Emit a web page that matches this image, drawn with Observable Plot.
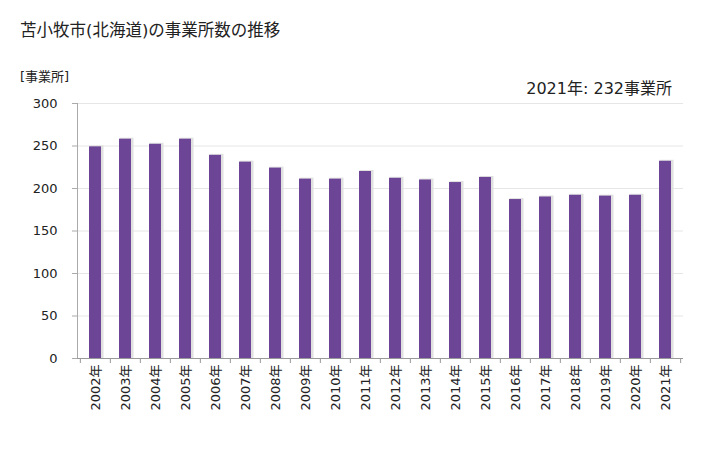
<!DOCTYPE html>
<html><head><meta charset="utf-8">
<script src="https://cdn.jsdelivr.net/npm/d3@7"></script>
<script src="https://cdn.jsdelivr.net/npm/@observablehq/plot@0.6"></script>
<style>
body{margin:0;background:#fff;font-family:"DejaVu Sans","Noto Sans CJK JP",sans-serif;}
#wrap{position:relative;width:728px;height:450px;}
.t{position:absolute;color:#222;white-space:nowrap;}
</style></head><body>
<div id="wrap">
<div class="t" id="title" style="left:20px;top:17px;font-size:16.5px;">苫小牧市(北海道)の事業所数の推移</div>
<div class="t" id="unit" style="left:20px;top:66px;font-size:13px;">[事業所]</div>
<div class="t" id="note" style="right:56px;top:75px;font-size:16px;">2021年: 232事業所</div>
</div>
<script>
const years = ["2002","2003","2004","2005","2006","2007","2008","2009","2010","2011","2012","2013","2014","2015","2016","2017","2018","2019","2020","2021"];
const counts = [249,258,252,258,239,231,224,211,211,220,212,210,207,213,187,190,192,191,192,232];
const yTicks = [0,50,100,150,200,250,300];
const data = years.map((y,i)=>({year:y, value:counts[i]}));

const W = 728, H = 450, mL = 77, mR = 45;
const step = (W - mL - mR) / years.length;

const chart = Plot.plot({
  width: W, height: H,
  marginLeft: mL, marginRight: mR, marginTop: 103, marginBottom: 92,
  style: {fontFamily: '"DejaVu Sans","Noto Sans CJK JP",sans-serif', fontSize: "13px", color: "#222", background: "transparent"},
  x: {domain: years, paddingInner: 0.6, paddingOuter: 0.3, label: null},
  y: {domain: [0,300], label: null},
  marks: [
    Plot.gridY(yTicks, {stroke: "#e6e6e6", strokeOpacity: 1}),
    Plot.barY(data, {x: "year", y: "value", fill: "#e0e0e0", dx: 1.5, insetLeft: -1, insetRight: -1, insetTop: -1}),
    Plot.barY(data, {x: "year", y: "value", fill: "#6c4596"}),
    Plot.frame({anchor: "left", stroke: "#aaa"}),
    Plot.ruleY([0], {stroke: "#999"}),
    Plot.axisY({ticks: yTicks, tickSize: 5, tickPadding: 15, stroke: "#aaa", fill: "#222", fontSize: 13}),
    Plot.axisX({tickSize: 0, tickPadding: 6, tickRotate: -90, tickFormat: d => d + "年", fill: "#222", fontSize: 13}),
    Plot.axisX({tickSize: 5, tickFormat: () => "", dx: -step/2, stroke: "#999"}),
    Plot.axisX([years[years.length-1]], {tickSize: 5, tickFormat: () => "", dx: step/2, stroke: "#999"})
  ]
});
document.getElementById("wrap").prepend(chart);
chart.style.position = "absolute";
chart.style.left = "0"; chart.style.top = "0";
</script>
</body></html>
